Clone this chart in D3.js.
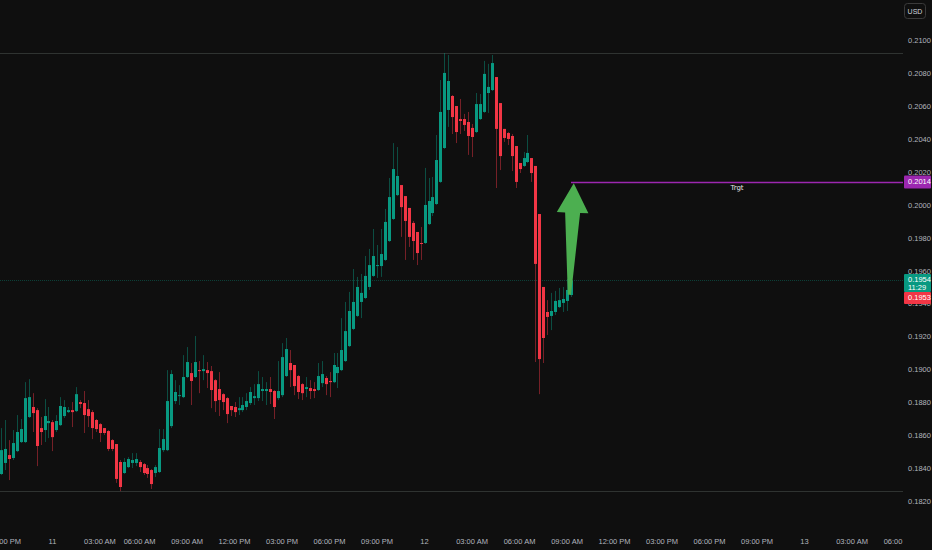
<!DOCTYPE html>
<html><head><meta charset="utf-8">
<script src="https://cdn.jsdelivr.net/npm/d3@7/dist/d3.min.js"></script>
<style>html,body{margin:0;padding:0;background:#0f0f0f;}svg{display:block;}</style>
</head><body>
<svg id="chart" width="932" height="550"></svg>
<script>
// ---- DATA (15-minute candles, USD) ----
const opens = [0.18364,0.18431,0.18479,0.18461,0.18503,0.18558,0.18558,0.18710,0.18771,0.18752,
0.18643,0.18631,0.18673,0.18679,0.18631,0.18661,0.18716,0.18740,0.18752,0.18746,
0.18801,0.18795,0.18758,0.18740,0.18692,0.18667,0.18643,0.18625,0.18570,0.18546,
0.18437,0.18370,0.18406,0.18431,0.18431,0.18437,0.18424,0.18400,0.18388,0.18370,
0.18376,0.18509,0.18509,0.18655,0.18807,0.18837,0.18831,0.18953,0.18977,0.18953,
0.18995,0.18989,0.18995,0.18989,0.18934,0.18880,0.18849,0.18825,0.18777,0.18771,
0.18752,0.18752,0.18771,0.18795,0.18825,0.18825,0.18868,0.18868,0.18880,0.18868,
0.18825,0.18843,0.18959,0.19038,0.19026,0.18959,0.18910,0.18880,0.18886,0.18880,
0.18874,0.18916,0.18947,0.18929,0.18922,0.18977,0.18995,0.19050,0.19141,0.19245,
0.19324,0.19409,0.19433,0.19500,0.19567,0.19627,0.19627,0.19664,0.19779,0.19913,
0.20058,0.20119,0.20052,0.19980,0.19889,0.19834,0.19767,0.19767,0.19882,0.19949,
0.20004,0.20138,0.20344,0.20575,0.20660,0.20599,0.20520,0.20520,0.20502,0.20466,
0.20441,0.20520,0.20563,0.20678,0.20696,0.20775,0.20617,0.20460,0.20435,0.20417,
0.20356,0.20253,0.20235,0.20259,0.20283,0.20235,0.19943,0.19500,0.19348,0.19324,
0.19348,0.19378,0.19403,0.19415,0.19451];
const highs = [0.18643,0.18692,0.18570,0.18631,0.18722,0.18698,0.18922,0.18940,0.18855,0.18764,
0.18710,0.18819,0.18771,0.18692,0.18722,0.18831,0.18813,0.18771,0.18801,0.18892,
0.18813,0.18868,0.18813,0.18752,0.18698,0.18673,0.18643,0.18631,0.18576,0.18546,
0.18449,0.18461,0.18467,0.18491,0.18491,0.18449,0.18431,0.18418,0.18394,0.18418,
0.18637,0.18637,0.18995,0.18995,0.18934,0.18904,0.19086,0.19135,0.19038,0.19202,
0.19050,0.19086,0.19044,0.19020,0.18940,0.18983,0.18855,0.18831,0.18777,0.18801,
0.18831,0.18831,0.18855,0.18892,0.18910,0.18989,0.18953,0.18922,0.18953,0.18874,
0.19050,0.19159,0.19190,0.19117,0.19026,0.18965,0.18916,0.18953,0.18934,0.18922,
0.19038,0.19050,0.18959,0.18983,0.19099,0.19099,0.19311,0.19409,0.19470,0.19609,
0.19561,0.19579,0.19688,0.19731,0.19852,0.19755,0.19852,0.19974,0.20162,0.20374,
0.20350,0.20119,0.20052,0.19980,0.19901,0.19834,0.19864,0.20223,0.20162,0.20168,
0.20423,0.20757,0.20921,0.20909,0.20666,0.20599,0.20642,0.20551,0.20563,0.20490,
0.20678,0.20672,0.20873,0.20855,0.20909,0.20775,0.20617,0.20460,0.20441,0.20429,
0.20356,0.20253,0.20320,0.20423,0.20283,0.20235,0.19943,0.19500,0.19420,0.19464,
0.19476,0.19494,0.19500,0.19549,0.19555];
const lows = [0.18358,0.18388,0.18327,0.18449,0.18497,0.18552,0.18552,0.18704,0.18619,0.18412,
0.18540,0.18558,0.18582,0.18503,0.18619,0.18655,0.18704,0.18734,0.18649,0.18740,
0.18764,0.18613,0.18649,0.18576,0.18619,0.18558,0.18601,0.18503,0.18503,0.18310,
0.18260,0.18364,0.18400,0.18400,0.18412,0.18376,0.18358,0.18340,0.18273,0.18346,
0.18370,0.18497,0.18503,0.18643,0.18789,0.18783,0.18825,0.18947,0.18783,0.18947,
0.18855,0.18934,0.18886,0.18764,0.18740,0.18716,0.18752,0.18673,0.18716,0.18710,
0.18722,0.18740,0.18752,0.18783,0.18783,0.18807,0.18807,0.18783,0.18789,0.18698,
0.18813,0.18831,0.18953,0.18892,0.18843,0.18819,0.18813,0.18831,0.18819,0.18825,
0.18868,0.18892,0.18843,0.18831,0.18916,0.18886,0.18989,0.19044,0.19135,0.19238,
0.19318,0.19311,0.19427,0.19482,0.19561,0.19555,0.19561,0.19658,0.19773,0.19907,
0.20052,0.19804,0.19664,0.19743,0.19664,0.19633,0.19664,0.19761,0.19876,0.19931,
0.19998,0.20132,0.20338,0.20472,0.20429,0.20374,0.20429,0.20447,0.20302,0.20289,
0.20435,0.20514,0.20557,0.20557,0.20690,0.20101,0.20210,0.20381,0.20362,0.20204,
0.20101,0.20192,0.20229,0.20253,0.20138,0.19044,0.18849,0.19038,0.19208,0.19238,
0.19330,0.19372,0.19348,0.19354,0.19439];
const closes = [0.18509,0.18516,0.18455,0.18552,0.18619,0.18637,0.18825,0.18831,0.18734,0.18534,
0.18619,0.18716,0.18686,0.18588,0.18686,0.18777,0.18771,0.18752,0.18740,0.18849,
0.18789,0.18722,0.18716,0.18643,0.18637,0.18613,0.18613,0.18516,0.18516,0.18334,
0.18285,0.18437,0.18455,0.18449,0.18455,0.18406,0.18370,0.18364,0.18303,0.18406,
0.18522,0.18576,0.18807,0.18971,0.18862,0.18843,0.18953,0.19044,0.18929,0.19044,
0.18989,0.19001,0.18977,0.18874,0.18807,0.18813,0.18801,0.18728,0.18752,0.18740,
0.18764,0.18783,0.18807,0.18862,0.18837,0.18910,0.18880,0.18880,0.18862,0.18771,
0.18868,0.19074,0.19123,0.18995,0.18898,0.18862,0.18855,0.18892,0.18868,0.18868,
0.18959,0.18971,0.18910,0.18922,0.19026,0.19014,0.19117,0.19232,0.19354,0.19409,
0.19500,0.19464,0.19567,0.19633,0.19688,0.19633,0.19700,0.19895,0.20046,0.20216,
0.20174,0.19985,0.19901,0.19804,0.19779,0.19706,0.19761,0.19998,0.20022,0.20046,
0.20271,0.20563,0.20800,0.20751,0.20532,0.20441,0.20508,0.20484,0.20417,0.20411,
0.20611,0.20611,0.20794,0.20715,0.20860,0.20460,0.20295,0.20405,0.20399,0.20295,
0.20138,0.20216,0.20283,0.20314,0.20192,0.19640,0.19062,0.19190,0.19318,0.19354,
0.19415,0.19420,0.19427,0.19482,0.19540];

// price axis ticks
const priceTicks = [0.2100,0.2080,0.2060,0.2040,0.2020,0.2000,0.1980,0.1960,0.1940,0.1920,0.1900,0.1880,0.1860,0.1840,0.1820];
// time axis (bar index of each label)
const timeTickIdx = [1,13,25,35,47,59,71,83,95,107,119,131,143,155,167,179,191,203,215,227];
const timeTickLabels = ["09:00 PM","11","03:00 AM","06:00 AM","09:00 AM","12:00 PM","03:00 PM","06:00 PM","09:00 PM","12","03:00 AM","06:00 AM","09:00 AM","12:00 PM","03:00 PM","06:00 PM","09:00 PM","13","03:00 AM","06:00 AM"];

// drawings
const hLevels = [0.20922, 0.18260];        // user horizontal lines
const lastPrice = 0.1954, bidPrice = 0.1953, countdown = "11:29";
const targetPrice = 0.2014, targetLabel = "Trgt";
const arrowFrom = {i: 143.6, p: 0.19453};
const arrowTo   = {i: 144.7, p: 0.20130};

// ---- LAYOUT ----
const W = 932, H = 550, plotRight = 903, plotBottom = 528;
const svg = d3.select("#chart");
const bg = "#0f0f0f";
const up = "#089981", dn = "#f23645";
svg.append("rect").attr("width", W).attr("height", H).attr("fill", bg);

const x = d3.scaleLinear().domain([0, opens.length - 1]).range([1, 571]);
const y = d3.scaleLinear().domain([0.182, 0.21]).range([501, 40]);

const defs = svg.append("defs");
defs.append("clipPath").attr("id","plot")
  .append("rect").attr("x",0).attr("y",0).attr("width",plotRight).attr("height",plotBottom);
defs.append("clipPath").attr("id","tclip")
  .append("rect").attr("x",0).attr("y",0).attr("width",plotRight + 1).attr("height",H);

const plot = svg.append("g").attr("clip-path","url(#plot)");

// horizontal user lines
plot.selectAll("line.hl").data(hLevels).enter().append("line")
  .attr("x1", 0).attr("x2", plotRight)
  .attr("y1", d => Math.round(y(d)) + 0.5).attr("y2", d => Math.round(y(d)) + 0.5)
  .attr("stroke", "#2f3331").attr("stroke-width", 1);

// last price line
plot.append("line").attr("x1",0).attr("x2",plotRight)
  .attr("y1", Math.round(y(lastPrice))+0.5).attr("y2", Math.round(y(lastPrice))+0.5)
  .attr("stroke", "#0c4038").attr("stroke-width",1).attr("stroke-dasharray","1,1");

const candles = opens.map((o, i) => ({i, o, h: highs[i], l: lows[i], c: closes[i]}));

// wicks
plot.selectAll("line.wick").data(candles).enter().append("line")
  .attr("x1", d => Math.round(x(d.i)) + 0.5).attr("x2", d => Math.round(x(d.i)) + 0.5)
  .attr("y1", d => y(d.h)).attr("y2", d => y(d.l))
  .attr("stroke", d => d.c >= d.o ? up : dn).attr("stroke-opacity", 0.45).attr("stroke-width", 1);

// bodies
plot.selectAll("rect.body").data(candles).enter().append("rect")
  .attr("x", d => Math.round(x(d.i)) - 1)
  .attr("width", 3)
  .attr("y", d => y(Math.max(d.o, d.c)))
  .attr("height", d => Math.max(1, Math.abs(y(d.o) - y(d.c))))
  .attr("fill", d => d.c >= d.o ? up : dn);

// target line
const ty = Math.round(y(targetPrice)) + 0.5;
plot.append("line").attr("x1", x(opens.length - 1)).attr("x2", plotRight)
  .attr("y1", ty).attr("y2", ty).attr("stroke", "#9c27b0").attr("stroke-width", 1.5);
plot.append("text").attr("x", (x(opens.length - 1) + plotRight) / 2).attr("y", ty + 7.5)
  .attr("text-anchor","middle").attr("fill","#e6e6e6")
  .style("font", "7px 'DejaVu Sans'").text(targetLabel);

// green arrow
{
  const tx = x(arrowTo.i), tyA = y(arrowTo.p);
  const fx = x(arrowFrom.i), fy = y(arrowFrom.p);
  const headLen = 29.5, headHalf = 15.8, shaftTop = 7.5, shaftBot = 1.6;
  const ang = Math.atan2(fy - tyA, fx - tx);
  const ux = Math.cos(ang), uy = Math.sin(ang), px = -uy, py = ux;
  const bx = tx + ux * headLen, by = tyA + uy * headLen;
  const pts = [
    [tx, tyA],
    [bx + px * headHalf, by + py * headHalf],
    [bx + px * shaftTop, by + py * shaftTop],
    [fx + px * shaftBot, fy + py * shaftBot],
    [fx - px * shaftBot, fy - py * shaftBot],
    [bx - px * shaftTop, by - py * shaftTop],
    [bx - px * headHalf, by - py * headHalf]
  ];
  plot.append("path").attr("d", d3.line()(pts) + "Z").attr("fill", "#4caf50");
}

// ---- PRICE AXIS ----
const axisFont = "7.5px 'Liberation Sans Narrow', 'Liberation Sans', Arial, sans-serif";
const ax = svg.append("g");
ax.selectAll("text.pt").data(priceTicks).enter().append("text")
  .attr("x", 908).attr("y", d => y(d) + 3)
  .attr("fill", "#b2b5be").style("font", axisFont)
  .text(d => d3.format(".4f")(d));

// USD box
ax.append("rect").attr("x", 904.5).attr("y", 3.5).attr("width", 21).attr("height", 15).attr("rx", 3)
  .attr("fill", "none").attr("stroke", "#3a3a3a");
ax.append("text").attr("x", 915).attr("y", 13.5).attr("text-anchor","middle")
  .attr("fill","#d1d4dc").style("font","7px 'Liberation Sans Narrow', 'Liberation Sans', Arial, sans-serif").text("USD");

// price labels
function priceTag(yTop, h, color, lines) {
  ax.append("rect").attr("x", 904).attr("y", yTop).attr("width", 27).attr("height", h).attr("rx", 1).attr("fill", color);
  lines.forEach((t, k) => ax.append("text").attr("x", 908).attr("y", yTop + 8 + k * 8)
    .attr("fill","#ffffff").style("font", axisFont).text(t));
}
priceTag(y(targetPrice) - 6, 13, "#9c27b0", [d3.format(".4f")(targetPrice)]);
priceTag(y(lastPrice) - 6.5, 18, up, [d3.format(".4f")(lastPrice), countdown]);
priceTag(y(lastPrice) + 11.5, 12, dn, [d3.format(".4f")(bidPrice)]);

// ---- TIME AXIS ----
const tg = svg.append("g").attr("clip-path","url(#tclip)");
tg.selectAll("text").data(timeTickIdx).enter().append("text")
  .attr("x", d => x(d)).attr("y", 544).attr("text-anchor","middle")
  .attr("fill", "#b2b5be").style("font", axisFont)
  .text((d, k) => timeTickLabels[k]);
</script>
</body></html>
